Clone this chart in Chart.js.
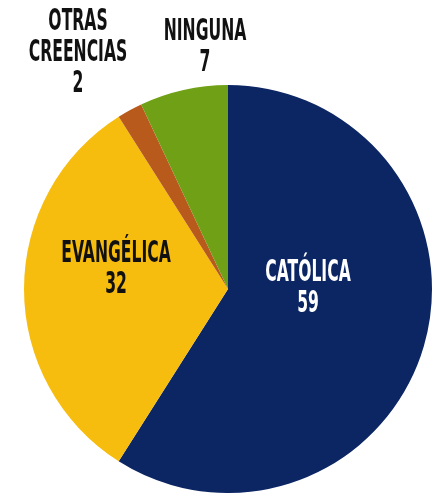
<!DOCTYPE html>
<html>
<head>
<meta charset="utf-8">
<script src="https://cdn.jsdelivr.net/npm/chart.js@4/dist/chart.umd.min.js"></script>
<style>
  html, body { margin: 0; padding: 0; background: #fff; }
  #wrap { width: 440px; height: 493px; }
</style>
</head>
<body>
<div id="wrap"><canvas id="pie"></canvas></div>
<script>
// datos
const categories = ['CATÓLICA', 'EVANGÉLICA', 'OTRAS CREENCIAS', 'NINGUNA'];
const values = [59, 32, 2, 7];
const innerColors = ['#0c2563', '#f7bd0e', '#b85a1c', '#70a016'];
const edgeColors = ['#061640', '#e3a200', '#8f3f0e', '#547c0a'];

// lineas de cada etiqueta y su color
const labelLines = [['CATÓLICA', '59'], ['EVANGÉLICA', '32'], ['OTRAS', 'CREENCIAS', '2'], ['NINGUNA', '7']];
const labelColors = ['#ffffff', '#111111', '#111111', '#111111'];
// desplazamiento (px) desde el centro del pastel hasta el centro del bloque de texto
const labelOffsets = [[80, -1], [-112, -20], [-150, -236], [-23, -242]];

function sliceColor(ctx) {
  const chart = ctx.chart;
  const arc = chart.getDatasetMeta(0).data[ctx.dataIndex];
  if (!arc || !arc.outerRadius) return innerColors[ctx.dataIndex];
  const g = chart.ctx.createRadialGradient(arc.x, arc.y, 0, arc.x, arc.y, arc.outerRadius);
  g.addColorStop(0, innerColors[ctx.dataIndex]);
  g.addColorStop(0.9, innerColors[ctx.dataIndex]);
  g.addColorStop(1, edgeColors[ctx.dataIndex]);
  return g;
}

const textPlugin = {
  id: 'textos',
  afterDatasetsDraw(chart) {
    const c = chart.ctx;
    const arc = chart.getDatasetMeta(0).data[0];
    const cx = arc.x, cy = arc.y;
    const lineH = 31;
    c.save();
    c.font = 'bold 31px "DejaVu Sans Condensed", "DejaVu Sans", sans-serif';
    c.textAlign = 'center';
    c.textBaseline = 'middle';
    labelLines.forEach((lines, i) => {
      const x = cx + labelOffsets[i][0];
      const y0 = cy + labelOffsets[i][1] - (lines.length - 1) * lineH / 2;
      c.fillStyle = labelColors[i];
      lines.forEach((t, j) => {
        c.save();
        c.translate(x, y0 + j * lineH);
        c.scale(0.56, 1);
        c.fillText(t, 0, 0);
        c.restore();
      });
    });
    c.restore();
  }
};

new Chart(document.getElementById('pie'), {
  type: 'pie',
  data: {
    labels: categories,
    datasets: [{
      data: values,
      backgroundColor: sliceColor,
      borderWidth: 0
    }]
  },
  options: {
    responsive: true,
    maintainAspectRatio: false,
    animation: false,
    layout: { padding: { left: 20, right: 4, top: 85, bottom: 0 } },
    plugins: {
      legend: { display: false },
      tooltip: { enabled: false }
    }
  },
  plugins: [textPlugin]
});
</script>
</body>
</html>
